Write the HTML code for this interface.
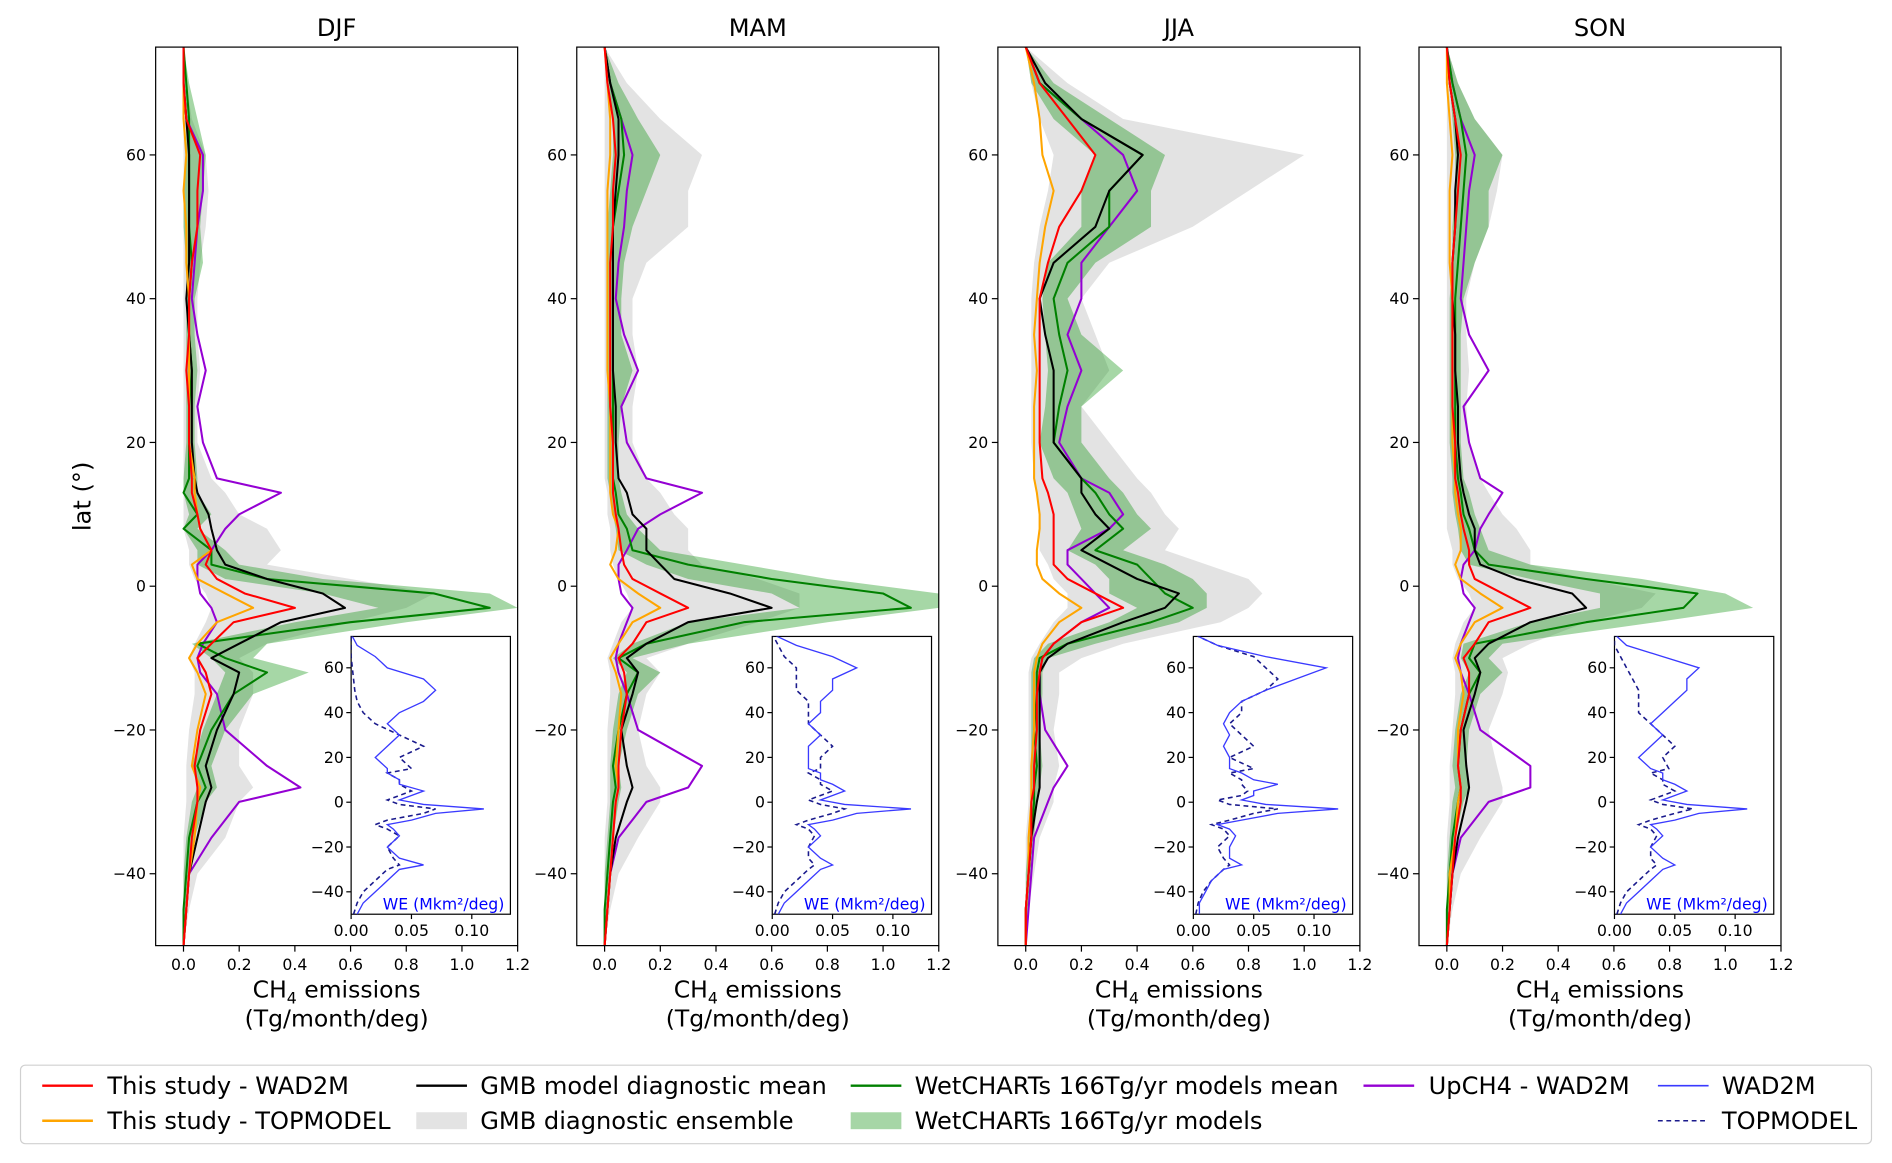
<!DOCTYPE html>
<html><head><meta charset="utf-8"><title>CH4 emissions by latitude</title>
<style>
html,body{margin:0;padding:0;background:#fff;}
svg{display:block;font-family:"DejaVu Sans","Liberation Sans",sans-serif;}
</style></head>
<body>
<svg id="chart" width="1892" height="1163" viewBox="0 0 1568 963" preserveAspectRatio="none" xmlns="http://www.w3.org/2000/svg">
<rect width="1568" height="963" fill="#fff"/>
<g id="panels"></g>
<text x="75" y="411" font-size="20" text-anchor="middle" transform="rotate(-90 75 411)">lat (°)</text>
<g font-size="20">
<rect x="17" y="882" width="1534" height="65" rx="4" fill="#fff" stroke="#d0d0d0" stroke-width="1"/>
<g><line x1="35" y1="899" x2="77" y2="899" stroke="#ff0000" stroke-width="2"/><text x="89" y="906">This study - WAD2M</text></g>
<g><line x1="35" y1="928" x2="77" y2="928" stroke="#ffa500" stroke-width="2"/><text x="89" y="935">This study - TOPMODEL</text></g>
<g><line x1="345" y1="899" x2="387" y2="899" stroke="#000" stroke-width="2"/><text x="398" y="906">GMB model diagnostic mean</text></g>
<g><rect x="345" y="921" width="42" height="14" fill="#e3e3e3"/><text x="398" y="935">GMB diagnostic ensemble</text></g>
<g><line x1="705" y1="899" x2="747" y2="899" stroke="#008000" stroke-width="2"/><text x="758" y="906">WetCHARTs 166Tg/yr models mean</text></g>
<g><rect x="705" y="921" width="42" height="14" fill="#a6d6a6"/><text x="758" y="935">WetCHARTs 166Tg/yr models</text></g>
<g><line x1="1130" y1="899" x2="1172" y2="899" stroke="#9400d3" stroke-width="2"/><text x="1184" y="906">UpCH4 - WAD2M</text></g>
<g><line x1="1374" y1="899" x2="1416" y2="899" stroke="#3a3aff" stroke-width="1.3"/><text x="1427" y="906">WAD2M</text></g>
<g><line x1="1374" y1="928" x2="1416" y2="928" stroke="#1a1a8c" stroke-width="1.3" stroke-dasharray="4,3"/><text x="1427" y="935">TOPMODEL</text></g>
</g>
</svg>
<script>
const lats = [-50,-45,-40,-35,-30,-28,-25,-20,-15,-12,-10,-8,-5,-3,-1,1,3,5,8,10,13,15,20,25,30,35,40,45,50,55,60,65,70,75];
const seasons = ["DJF","MAM","JJA","SON"];
const xTicks = [0.0,0.2,0.4,0.6,0.8,1.0,1.2];
const yTicks = [60,40,20,0,-20,-40];
const insetXTicks = [0.00,0.05,0.10];
const insetYTicks = [60,40,20,0,-20,-40];

const djfRed = [0,.01,.02,.03,.05,.05,.04,.06,.1,.08,.05,.1,.18,.4,.22,.12,.08,.1,.06,.05,.03,.03,.02,.02,.01,.02,.02,.03,.05,.05,.06,.01,0,0];
const djfOrange = [0,.01,.02,.04,.05,.06,.03,.05,.08,.05,.02,.05,.12,.25,.15,.05,.03,.1,.06,.05,.04,.04,.02,.02,.02,.02,.02,.01,.01,0,.01,0,0,0];
const djfBlack = [0,.01,.02,.05,.08,.1,.08,.12,.18,.2,.1,.2,.35,.58,.5,.3,.15,.12,.1,.09,.05,.04,.03,.03,.03,.02,.01,.02,.02,.02,.02,.01,0,0];
const djfGreen = [0,0,.01,.02,.05,.08,.05,.1,.18,.3,.15,.05,.6,1.1,.9,.3,.1,.1,0,.05,0,.02,.02,.02,.03,.02,.02,.03,.02,.02,.02,.02,.01,0];
const djfGreenLo = [0,0,0,.01,.03,.05,.03,.07,.12,.15,.1,.03,.4,.7,.5,.15,.05,.05,0,.02,0,0,.01,.01,.01,.01,.01,.01,0,0,.01,.01,0,0];
const djfGreenHi = [0,.01,.02,.04,.08,.12,.1,.15,.25,.45,.25,.3,.8,1.2,1.1,.5,.2,.15,.05,.1,.05,.05,.04,.04,.05,.04,.04,.07,.06,.07,.08,.05,.02,0];
const djfPurple = [0,.01,.02,.1,.2,.42,.3,.15,.12,.06,.05,.07,.12,.1,.06,.05,.05,.1,.15,.2,.35,.12,.07,.05,.08,.05,.03,.04,.05,.07,.07,.01,0,0];
const djfGrayLo = [0,0,0,0,.01,.01,.01,.02,.04,.04,.02,.04,.08,.1,.08,.04,.02,.02,0,0,0,0,0,0,0,0,0,0,0,0,0,0,0,0];
const djfGrayHi = [0,.02,.05,.15,.2,.25,.2,.2,.25,.25,.2,.3,.6,.8,.9,.6,.3,.35,.3,.2,.15,.1,.05,.05,.06,.05,.05,.06,.08,.09,.08,.03,.01,0];
const djfWeWad = [.005,.01,.02,.03,.04,.06,.04,.03,.04,.035,.03,.05,.07,.11,.06,.04,.05,.06,.04,.04,.03,.03,.02,.03,.04,.03,.04,.06,.07,.06,.03,.02,.005,0];
const djfWeTop = [.002,.005,.01,.02,.03,.04,.035,.03,.04,.03,.02,.03,.06,.07,.04,.03,.04,.05,.04,.04,.03,.05,.04,.06,.04,.02,.01,.005,.003,.002,.001,0,0,0];

const mamRed = [0,.01,.02,.03,.04,.05,.05,.06,.08,.07,.05,.1,.15,.3,.2,.1,.07,.06,.05,.04,.03,.03,.03,.02,.02,.02,.02,.02,.03,.03,.04,.03,.01,0];
const mamOrange = [0,.01,.02,.03,.04,.05,.04,.05,.06,.04,.02,.05,.1,.2,.12,.05,.02,.04,.05,.03,.02,.02,.02,.02,.01,.01,.01,.01,.01,.01,.02,.02,.01,0];
const mamBlack = [0,.01,.02,.04,.08,.1,.08,.06,.1,.12,.08,.15,.3,.6,.45,.25,.2,.15,.15,.1,.08,.05,.04,.04,.03,.03,.03,.03,.03,.04,.05,.05,.02,0];
const mamGreen = [0,0,.01,.02,.03,.04,.03,.05,.08,.12,.05,.15,.5,1.1,1.0,.6,.3,.1,.08,.05,.04,.03,.03,.03,.03,.03,.03,.03,.03,.05,.07,.06,.02,0];
const mamGreenLo = [0,0,0,.01,.02,.02,.02,.03,.05,.08,.03,.1,.3,.7,.6,.3,.15,.05,.04,.03,.02,.01,.01,.01,.01,.01,.01,.01,.01,.02,.03,.03,.01,0];
const mamGreenHi = [0,.01,.02,.03,.05,.06,.05,.08,.12,.2,.1,.3,.8,1.2,1.2,.8,.5,.2,.12,.08,.06,.05,.05,.06,.1,.06,.06,.07,.1,.15,.2,.12,.05,0];
const mamPurple = [0,.01,.02,.05,.15,.3,.35,.12,.08,.05,.04,.05,.08,.1,.06,.05,.05,.08,.12,.2,.35,.15,.08,.06,.12,.07,.04,.05,.07,.08,.1,.06,.02,0];
const mamGrayLo = [0,0,0,0,.01,.01,.01,.01,.02,.02,.01,.03,.06,.1,.08,.05,.03,.02,.02,.01,.01,0,0,0,0,0,0,0,0,0,0,0,0,0];
const mamGrayHi = [0,.02,.05,.12,.2,.2,.15,.12,.15,.2,.15,.3,.55,.7,.7,.55,.35,.3,.3,.25,.2,.15,.1,.1,.12,.1,.1,.15,.3,.3,.35,.2,.08,0];
const mamWeWad = [.005,.01,.02,.03,.04,.05,.04,.03,.04,.035,.03,.05,.07,.115,.06,.04,.05,.06,.05,.04,.04,.03,.03,.03,.04,.03,.04,.04,.05,.05,.07,.05,.02,0];
const mamWeTop = [.002,.005,.01,.02,.03,.035,.03,.03,.035,.03,.02,.03,.05,.06,.04,.03,.04,.05,.04,.04,.03,.04,.04,.05,.04,.03,.03,.03,.02,.02,.02,.01,.005,0];

const jjaRed = [0,0,.01,.02,.02,.03,.03,.04,.04,.05,.06,.1,.2,.35,.25,.15,.1,.1,.1,.1,.08,.06,.05,.05,.05,.05,.05,.08,.12,.2,.25,.15,.05,0];
const jjaOrange = [0,0,.01,.01,.02,.02,.02,.03,.03,.03,.04,.06,.12,.2,.12,.06,.04,.04,.05,.05,.04,.03,.03,.03,.04,.03,.04,.05,.07,.1,.06,.05,.03,0];
const jjaBlack = [0,0,.01,.02,.04,.05,.05,.05,.05,.05,.08,.15,.35,.5,.55,.4,.3,.2,.3,.25,.2,.2,.1,.1,.1,.07,.05,.1,.25,.3,.42,.2,.07,0];
const jjaGreen = [0,0,.01,.02,.03,.03,.04,.03,.04,.04,.05,.15,.45,.6,.5,.45,.4,.25,.35,.3,.25,.2,.1,.12,.15,.12,.1,.15,.3,.3,.42,.2,.05,0];
const jjaGreenLo = [0,0,0,.01,.02,.02,.02,.02,.02,.02,.03,.08,.3,.4,.3,.3,.25,.15,.2,.18,.15,.1,.05,.07,.08,.07,.06,.08,.2,.2,.25,.1,.02,0];
const jjaGreenHi = [0,.01,.02,.03,.04,.05,.06,.05,.06,.06,.08,.25,.55,.65,.65,.6,.5,.35,.45,.4,.35,.3,.2,.2,.35,.2,.15,.25,.45,.45,.5,.3,.1,0];
const jjaPurple = [0,.01,.02,.03,.08,.1,.15,.07,.05,.05,.06,.1,.2,.3,.25,.2,.15,.15,.3,.35,.3,.2,.12,.15,.2,.15,.2,.2,.3,.4,.35,.2,.05,0];
const jjaGrayLo = [0,0,0,0,.01,.01,.01,.01,.01,.01,.02,.05,.1,.15,.15,.1,.08,.05,.05,.05,.04,.03,.02,.02,.02,.02,.02,.03,.05,.08,.1,.05,.02,0];
const jjaGrayHi = [0,.01,.03,.05,.1,.1,.12,.1,.12,.12,.2,.35,.7,.8,.85,.8,.65,.5,.55,.5,.45,.4,.3,.2,.3,.25,.2,.3,.6,.8,1.0,.35,.15,0];
const jjaWeWad = [.005,.005,.01,.015,.025,.04,.03,.03,.035,.03,.02,.04,.07,.12,.06,.04,.05,.05,.07,.05,.04,.03,.03,.025,.03,.025,.03,.04,.06,.085,.11,.06,.02,0];
const jjaWeTop = [.002,.004,.008,.015,.025,.03,.025,.02,.03,.025,.015,.03,.05,.07,.03,.02,.04,.045,.04,.04,.03,.05,.03,.05,.04,.03,.04,.04,.06,.07,.06,.05,.02,0];

const sonRed = [0,.01,.02,.03,.05,.05,.04,.05,.08,.08,.06,.1,.15,.3,.2,.1,.08,.08,.06,.05,.04,.03,.03,.02,.02,.02,.02,.02,.03,.04,.05,.03,.01,0];
const sonOrange = [0,.01,.01,.03,.04,.05,.04,.04,.06,.05,.03,.05,.1,.2,.12,.05,.03,.05,.05,.04,.03,.03,.02,.02,.02,.02,.02,.01,.01,.01,.02,.01,0,0];
const sonBlack = [0,.01,.02,.04,.07,.08,.07,.06,.1,.12,.1,.15,.3,.5,.45,.25,.12,.1,.1,.08,.06,.05,.04,.04,.03,.03,.02,.02,.03,.03,.04,.03,.01,0];
const sonGreen = [0,0,.01,.02,.04,.05,.04,.05,.08,.12,.08,.1,.5,.85,.9,.5,.15,.1,.08,.06,.05,.04,.03,.03,.03,.03,.03,.04,.05,.06,.07,.05,.02,0];
const sonGreenLo = [0,0,0,.01,.02,.03,.02,.03,.05,.08,.05,.06,.3,.55,.55,.3,.08,.05,.04,.03,.02,.02,.01,.01,.01,.01,.01,.02,.02,.03,.03,.02,.01,0];
const sonGreenHi = [0,.01,.02,.03,.06,.08,.07,.08,.12,.2,.15,.2,.75,1.1,1.0,.7,.3,.15,.12,.1,.08,.06,.05,.05,.05,.05,.06,.1,.15,.15,.2,.1,.04,0];
const sonPurple = [0,.01,.02,.05,.15,.3,.3,.12,.08,.05,.04,.05,.08,.1,.06,.05,.06,.1,.12,.15,.2,.12,.08,.06,.15,.08,.05,.06,.07,.08,.1,.05,.02,0];
const sonGrayLo = [0,0,0,0,.01,.01,.01,.02,.03,.03,.02,.03,.06,.1,.08,.04,.02,.02,0,0,0,0,0,0,0,0,0,0,0,0,0,0,0,0];
const sonGrayHi = [0,.02,.05,.12,.2,.2,.18,.15,.2,.22,.2,.3,.5,.7,.75,.5,.3,.3,.25,.2,.15,.12,.08,.07,.08,.07,.07,.1,.15,.18,.2,.1,.04,0];
const sonWeWad = [.005,.01,.02,.03,.04,.05,.04,.03,.04,.035,.03,.05,.07,.11,.06,.04,.05,.06,.05,.04,.04,.03,.02,.03,.04,.03,.04,.05,.06,.06,.07,.04,.01,0];
const sonWeTop = [.002,.005,.01,.02,.03,.035,.03,.03,.035,.03,.02,.03,.05,.065,.04,.03,.04,.05,.04,.04,.03,.045,.04,.05,.04,.03,.02,.02,.02,.015,.01,.005,0,0];

const seasonData = {
  DJF:[djfRed,djfOrange,djfBlack,djfGreen,djfGreenLo,djfGreenHi,djfPurple,djfGrayLo,djfGrayHi,djfWeWad,djfWeTop],
  MAM:[mamRed,mamOrange,mamBlack,mamGreen,mamGreenLo,mamGreenHi,mamPurple,mamGrayLo,mamGrayHi,mamWeWad,mamWeTop],
  JJA:[jjaRed,jjaOrange,jjaBlack,jjaGreen,jjaGreenLo,jjaGreenHi,jjaPurple,jjaGrayLo,jjaGrayHi,jjaWeWad,jjaWeTop],
  SON:[sonRed,sonOrange,sonBlack,sonGreen,sonGreenLo,sonGreenHi,sonPurple,sonGrayLo,sonGrayHi,sonWeWad,sonWeTop]
};

const NS = "http://www.w3.org/2000/svg";
const root = document.getElementById("panels");
function mk(tag, attrs, parent){
  const e = document.createElementNS(NS, tag);
  for (const k in attrs) e.setAttribute(k, attrs[k]);
  parent.appendChild(e);
  return e;
}
const TOP = 39, BOT = 783, W = 300;
const lefts = [129,478,827,1176];
function yScale(lat){ return TOP + (75 - lat) / 125 * (BOT - TOP); }
function xScaleFor(L){ return v => L + (v + 0.1) / 1.3 * W; }
const ITOP = 527, IBOT = 757, IW = 132;
function iyScale(lat){ return ITOP + (74 - lat) / 124 * (IBOT - ITOP); }
function ixScaleFor(IL){ return v => IL + v / 0.132 * IW; }

function linePath(xs, ys, vals, lat){
  return vals.map((v,i)=>(i?"L":"M")+xs(v).toFixed(1)+","+ys(lat[i]).toFixed(1)).join(" ");
}
function bandPath(xs, ys, lo, hi, lat){
  let d = hi.map((v,i)=>(i?"L":"M")+xs(v).toFixed(1)+","+ys(lat[i]).toFixed(1)).join(" ");
  for (let i = lo.length-1; i >= 0; i--) d += " L"+xs(lo[i]).toFixed(1)+","+ys(lat[i]).toFixed(1);
  return d + " Z";
}

seasons.forEach((s, p) => {
  const L = lefts[p];
  const xs = xScaleFor(L);
  const d = seasonData[s];
  const g = mk("g", {}, root);
  
  
  const clipId = "clip" + p;
  const cp = mk("clipPath", {id: clipId}, g);
  mk("rect", {x: L, y: TOP, width: W, height: BOT - TOP}, cp);
  const plot = mk("g", {"clip-path": "url(#" + clipId + ")"}, g);

  const gray = mk("path", {d: bandPath(xs, yScale, d[7], d[8], lats), fill: "#e3e3e3"}, plot);
  
  
  const gband = mk("path", {d: bandPath(xs, yScale, d[4], d[5], lats), fill: "rgba(0,140,0,0.35)"}, plot);
  
  

  const series = [[d[6],"#9400d3","upch4-line"],[d[3],"#008000","wetcharts-mean-line"],[d[2],"#000","gmb-mean-line"],[d[1],"#ffa500","topmodel-line"],[d[0],"#ff0000","wad2m-line"]];
  series.forEach(([vals,col,name]) => {
    const ln = mk("path", {d: linePath(xs, yScale, vals, lats), fill: "none", stroke: col, "stroke-width": 1.7, "stroke-linejoin": "round"}, plot);
    
    
  });

  mk("rect", {x: L, y: TOP, width: W, height: BOT - TOP, fill: "none", stroke: "#000", "stroke-width": 1}, g);
  const title = mk("text", {x: L + W/2, y: 30, "font-size": 20, "text-anchor": "middle"}, g);
  title.textContent = s;
  
  

  xTicks.forEach(t => {
    const x = xs(t);
    mk("line", {x1: x, y1: BOT, x2: x, y2: BOT + 5, stroke: "#000", "stroke-width": 1}, g);
    const tx = mk("text", {x: x, y: BOT + 20, "font-size": 13, "text-anchor": "middle"}, g);
    tx.textContent = t.toFixed(1);
    
    
  });
  yTicks.forEach(t => {
    const y = yScale(t);
    mk("line", {x1: L - 5, y1: y, x2: L, y2: y, stroke: "#000", "stroke-width": 1}, g);
    const ty = mk("text", {x: L - 8, y: y + 4.5, "font-size": 13, "text-anchor": "end"}, g);
    ty.textContent = t < 0 ? "\u2212" + (-t) : String(t);
    
    
  });
  const xl1 = mk("text", {x: L + W/2, y: 826, "font-size": 19.5, "text-anchor": "middle"}, g);
  xl1.innerHTML = 'CH<tspan font-size="13" dy="5">4</tspan><tspan dy="-5"> emissions</tspan>';
  
  
  const xl2 = mk("text", {x: L + W/2, y: 850, "font-size": 19.5, "text-anchor": "middle"}, g);
  xl2.textContent = "(Tg/month/deg)";
  
  

  const IL = L + 162;
  const ixs = ixScaleFor(IL);
  const ig = mk("g", {}, g);
  
  
  mk("rect", {x: IL, y: ITOP, width: IW, height: IBOT - ITOP, fill: "#fff", stroke: "#000", "stroke-width": 1}, ig);
  const icp = mk("clipPath", {id: "iclip" + p}, ig);
  mk("rect", {x: IL, y: ITOP, width: IW, height: IBOT - ITOP}, icp);
  const iplot = mk("g", {"clip-path": "url(#iclip" + p + ")"}, ig);
  const tl = mk("path", {d: linePath(ixs, iyScale, d[10], lats), fill: "none", stroke: "#1a1a8c", "stroke-width": 1.3, "stroke-dasharray": "4,3"}, iplot);
  
  
  const wl = mk("path", {d: linePath(ixs, iyScale, d[9], lats), fill: "none", stroke: "#3a3aff", "stroke-width": 1.1}, iplot);
  
  
  insetXTicks.forEach(t => {
    const x = ixs(t);
    mk("line", {x1: x, y1: IBOT, x2: x, y2: IBOT + 4, stroke: "#000", "stroke-width": 1}, ig);
    const tx = mk("text", {x: x, y: IBOT + 18, "font-size": 13, "text-anchor": "middle"}, ig);
    tx.textContent = t.toFixed(2);
    
    
  });
  insetYTicks.forEach(t => {
    const y = iyScale(t);
    mk("line", {x1: IL - 4, y1: y, x2: IL, y2: y, stroke: "#000", "stroke-width": 1}, ig);
    const ty = mk("text", {x: IL - 6, y: y + 4.5, "font-size": 13, "text-anchor": "end"}, ig);
    ty.textContent = t < 0 ? "\u2212" + (-t) : String(t);
    
    
  });
  const we = mk("text", {x: IL + IW - 5, y: IBOT - 4, "font-size": 13, "text-anchor": "end", fill: "#0000ff"}, ig);
  we.textContent = "WE (Mkm\u00B2/deg)";
  
  
});
</script>
</body></html>
